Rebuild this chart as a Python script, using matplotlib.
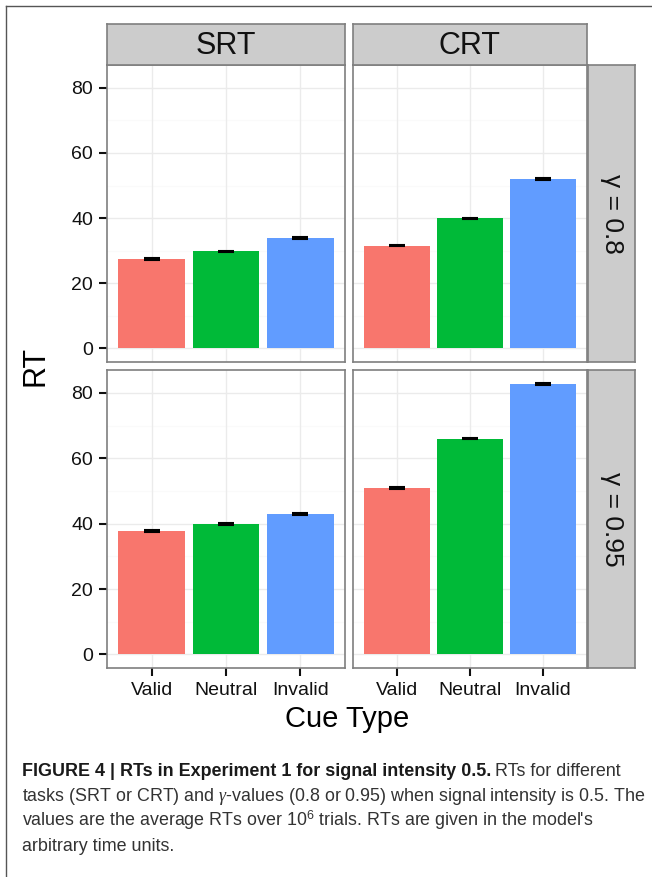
import matplotlib
matplotlib.use("Agg")
import matplotlib.pyplot as plt
from matplotlib.lines import Line2D
import numpy as np

plt.rcParams['font.family'] = ['Liberation Sans', 'DejaVu Sans']
plt.rcParams['mathtext.fontset'] = 'custom'
plt.rcParams['mathtext.rm'] = 'Liberation Sans'
plt.rcParams['mathtext.it'] = 'Liberation Serif:italic'

# Daten
cues = ['Valid', 'Neutral', 'Invalid']
tasks = ['SRT', 'CRT']
gamma_labels = ['γ = 0.8', 'γ = 0.95']
srt_g08 = [27.5, 29.8, 34.0]
crt_g08 = [31.6, 39.9, 52.0]
srt_g095 = [37.8, 39.8, 43.0]
crt_g095 = [51.0, 66.0, 82.7]
err = [0.25, 0.25, 0.25]
colors = ['#F8766D', '#00BA38', '#619CFF']

values = [[srt_g08, crt_g08], [srt_g095, crt_g095]]

W, H = 652, 877
fig = plt.figure(figsize=(W / 100, H / 100), dpi=100)


def px(x0, y0, x1, y1):
    # Pixelkoordinaten -> Figure-Koordinaten
    return [x0 / W, 1 - y1 / H, (x1 - x0) / W, (y1 - y0) / H]


col_x = [(107, 345), (353, 587)]
row_y = [(65, 362), (370, 668)]
strip_top = (24, 65)
strip_right = (588, 635)

for r in range(2):
    for c in range(2):
        ax = fig.add_axes(px(col_x[c][0], row_y[r][0], col_x[c][1], row_y[r][1]))
        x = np.arange(1, 4)
        ax.bar(x, values[r][c], width=0.9, color=colors, zorder=2)
        ax.errorbar(x, values[r][c], yerr=err, fmt='none', ecolor='black',
                    elinewidth=1.5, capsize=5.5, capthick=1.5, zorder=3)
        ax.set_xlim(0.4, 3.6)
        ax.set_ylim(-4.15, 87)
        ax.set_facecolor('white')
        # Gitter
        for yv in [10, 30, 50, 70]:
            ax.axhline(yv, color='#FAFAFA', lw=0.8, zorder=0)
        for yv in [0, 20, 40, 60, 80]:
            ax.axhline(yv, color='#EBEBEB', lw=1.0, zorder=1)
        for xv in x:
            ax.axvline(xv, color='#EBEBEB', lw=1.0, zorder=1)
        for s in ax.spines.values():
            s.set_color('#7F7F7F')
            s.set_linewidth(1.2)
        ax.set_yticks([0, 20, 40, 60, 80])
        ax.set_xticks(x)
        ax.tick_params(length=6, width=1.5, color='#111111', labelsize=14,
                       labelcolor='#111111', pad=4)
        if c == 0:
            ax.set_yticklabels(['0', '20', '40', '60', '80'])
        else:
            ax.tick_params(axis='y', left=False, labelleft=False)
        if r == 1:
            ax.set_xticklabels(cues)
        else:
            ax.tick_params(axis='x', bottom=False, labelbottom=False)

# Streifen oben
for c in range(2):
    sax = fig.add_axes(px(col_x[c][0], strip_top[0], col_x[c][1], strip_top[1]))
    sax.set_facecolor('#CCCCCC')
    sax.set_xticks([])
    sax.set_yticks([])
    for s in sax.spines.values():
        s.set_color('#7F7F7F')
        s.set_linewidth(1.2)
    sax.text(0.5, 0.47, tasks[c], ha='center', va='center', fontsize=22,
             color='#111111', transform=sax.transAxes)

# Streifen rechts
for r in range(2):
    sax = fig.add_axes(px(strip_right[0], row_y[r][0], strip_right[1], row_y[r][1]))
    sax.set_facecolor('#CCCCCC')
    sax.set_xticks([])
    sax.set_yticks([])
    for s in sax.spines.values():
        s.set_color('#7F7F7F')
        s.set_linewidth(1.2)
    sax.text(0.5, 0.5, gamma_labels[r], ha='center', va='center', fontsize=19,
             rotation=-90, color='#111111', transform=sax.transAxes)

# Achsenbeschriftungen
fig.text(35 / W, 1 - 366 / H, 'RT', rotation=90, ha='center', va='center',
         fontsize=22, color='black')
fig.text(347 / W, 1 - 719 / H, 'Cue Type', ha='center', va='center',
         fontsize=21, color='black')

# Rahmen
fig.add_artist(Line2D([6 / W, 6 / W], [0, 1 - 6 / H], color='#555555', lw=1.0))
fig.add_artist(Line2D([6 / W, 1], [1 - 6 / H, 1 - 6 / H], color='#555555', lw=1.0))

# Bildunterschrift
cap_x = 22 / W
cap_fs = 12.9
renderer = fig.canvas.get_renderer()
t1 = fig.text(cap_x, 1 - 776 / H, 'FIGURE 4 | RTs in Experiment 1 for signal intensity 0.5.',
              fontsize=cap_fs, fontweight='bold', color='#1a1a1a', va='baseline')
bb = t1.get_window_extent(renderer)
fig.text(bb.x1 / W + 4 / W, 1 - 776 / H, 'RTs for different',
         fontsize=cap_fs, color='#333333', va='baseline')
fig.text(cap_x, 1 - 801 / H,
         r'tasks (SRT or CRT) and $\mathit{\gamma}$-values (0.8 or 0.95) when signal intensity is 0.5. The',
         fontsize=cap_fs, color='#333333', va='baseline')
fig.text(cap_x, 1 - 826 / H,
         r"values are the average RTs over 10$^{\mathrm{6}}$ trials. RTs are given in the model's",
         fontsize=cap_fs, color='#333333', va='baseline')
fig.text(cap_x, 1 - 851 / H, 'arbitrary time units.',
         fontsize=cap_fs, color='#333333', va='baseline')

fig.savefig('out.png', dpi=100)
